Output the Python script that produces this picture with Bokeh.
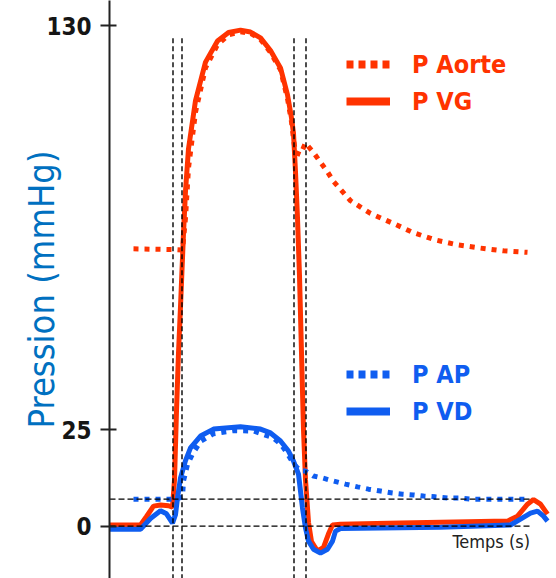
from bokeh.plotting import figure
from bokeh.models import Range1d, FixedTicker, Label, Legend, LegendItem, ColumnDataSource
from bokeh.embed import file_html
from bokeh.resources import INLINE

RED = "#FF3300"
BLUE = "#0F5DF0"
LABEL_BLUE = "#0070C0"
NAN = float("nan")

# time in ms, pressure in mmHg
t_vg = [0, 62, 74, 88, 102, 118, 126, 130, 134, 138, 142, 148, 152, 158, 172, 192, 216, 238, 262, 282,
        302, 322, 342, 356, 364, 368, 372, 376, 380, 384, 388, 392, 398, 404, 416, 428, 438, 446, 462,
        582, 796, 816, 836, 848, 862, 876]
p_vg = [0.3, 0.3, 2.5, 5.2, 5.5, 5.3, 4.9, 12, 30, 45, 57, 76, 87, 98, 110.5, 120.5, 126, 128.2, 128.8, 128.3,
        126.8, 123.5, 119, 112, 106, 102, 92, 80, 65, 45, 25, 12, 1, -4, -6.5, -5.5, -2, 0.3, 0.5,
        0.8, 1.3, 2.6, 5.7, 6.9, 5.7, 3.1]

t_ao = [48, 132, 146, 152, 158, 172, 192, 216, 238, 262, 282, 302, 322, 342, 356, 364, 368, 372, 382,
        392, 408, 422, 436, 448, 482, 522, 566, 608, 652, 698, 742, 788, 836]
p_ao = [72, 71.8, 71.7, 80, 93, 107.5, 119, 125, 127.6, 128.4, 128, 126.4, 123, 118.5, 111, 105, 100.5, 97, 96.5,
        99.5, 97, 94.5, 92, 89.5, 84.5, 81.2, 78.7, 76.2, 74.3, 73, 72.2, 71.5, 71.1]

t_vd = [0, 62, 82, 102, 114, 126, 132, 136, 142, 152, 162, 182, 208, 262, 302, 322, 342, 358, 368, 378,
        382, 386, 392, 398, 408, 422, 436, 446, 452, 462, 662, 802, 822, 842, 856, 868, 876]
p_vd = [-0.8, -0.8, 2.0, 4.0, 3.2, 0.8, 3, 7.3, 12.5, 17, 20.3, 23.4, 25.2, 25.8, 25.2, 24.2, 22.1, 19.5, 16.9, 13.5,
        9.1, 4.7, -0.5, -3.9, -6, -7, -6, -3.9, -1.3, -0.6, -0.3, 0.3, 1.8, 3.4, 3.9, 2.6, 1.3]

t_ap = [48, 128, 146, 148, 156, 166, 182, 208, 248, 288, 326, 342, 356, 368, 382, 392, 408, 426, 448, 472,
        496, 518, 542, 566, 586, 608, 628, 652, 676, 698, 722, 742, 788, 836]
p_ap = [7, 7, 7.5, 11.7, 16, 18.7, 22, 24, 24.8, 24.7, 23, 21.4, 18.8, 16.2, 14.3, 14.3, 13, 12.5, 11.7, 10.9,
        10.2, 9.6, 9.1, 8.6, 8.3, 8.1, 7.8, 7.6, 7.3, 7.3, 7.0, 7.0, 7.0, 7.0]

# reference lines
vline_t = [127, 145, 369, 393]
vline_top = [127, 127, 127.5, 127.5]
vline_bottom = [-20, -20, -20, -20]
hline_p = [0, 7]
hline_start = [0, 0]
hline_end = [844, 844]

y_ticks = [0, 25, 130]

p = figure(width=556, height=578, x_range=Range1d(0, 894), y_range=Range1d(-13.6, 136.5),
           x_axis_location=None, y_axis_location="left",
           output_backend="svg", toolbar_location=None,
           min_border_left=109, min_border_right=0, min_border_top=0, min_border_bottom=0)
p.outline_line_color = None
p.grid.visible = False
p.background_fill_color = "white"
p.border_fill_color = "white"

ax = p.yaxis[0]
ax.ticker = FixedTicker(ticks=y_ticks)
ax.minor_tick_line_color = None
ax.major_tick_in = 7
ax.major_tick_out = 9
ax.major_tick_line_width = 2
ax.major_tick_line_color = "#222222"
ax.axis_line_width = 2
ax.axis_line_color = "#222222"
ax.major_label_standoff = 9
ax.major_label_text_font = "DejaVu Sans Condensed"
ax.major_label_text_font_style = "bold"
ax.major_label_text_font_size = "24px"
ax.major_label_text_color = "#151515"
ax.axis_label = "Pression (mmHg)"
ax.axis_label_text_font = "DejaVu Sans Condensed"
ax.axis_label_text_font_style = "normal"
ax.axis_label_text_font_size = "36px"
ax.axis_label_text_color = LABEL_BLUE
ax.axis_label_standoff = -19

src_vg = ColumnDataSource(dict(t=t_vg, p=p_vg))
src_ao = ColumnDataSource(dict(t=t_ao, p=p_ao))
src_vd = ColumnDataSource(dict(t=t_vd, p=p_vd))
src_ap = ColumnDataSource(dict(t=t_ap, p=p_ap))

p.line("t", "p", source=src_vg, line_color=RED, line_width=5)
p.line("t", "p", source=src_ao, line_color=RED, line_width=5, line_dash="5 6")
p.line("t", "p", source=src_vd, line_color=BLUE, line_width=5)
p.line("t", "p", source=src_ap, line_color=BLUE, line_width=5, line_dash="5 6")

p.segment(x0=vline_t, y0=vline_bottom, x1=vline_t, y1=vline_top,
          line_color="black", line_width=1.4, line_dash="5 3")
p.segment(x0=hline_start, y0=hline_p, x1=hline_end, y1=hline_p,
          line_color="black", line_width=1.4, line_dash="6 3")

# legend sample renderers (nothing drawn in the plot)
l_ao = p.line([NAN], [NAN], line_color=RED, line_width=8, line_dash="7 5")
l_vg = p.line([NAN], [NAN], line_color=RED, line_width=8)
l_ap = p.line([NAN], [NAN], line_color=BLUE, line_width=8, line_dash="7 5")
l_vd = p.line([NAN], [NAN], line_color=BLUE, line_width=8)


def make_legend(items, color, loc):
    lg = Legend(items=items, location=loc, orientation="vertical",
                glyph_width=44, glyph_height=36, label_height=36, spacing=1,
                label_standoff=22, padding=0, margin=0,
                border_line_alpha=0, background_fill_alpha=0,
                label_text_font="DejaVu Sans Condensed", label_text_font_style="bold",
                label_text_font_size="25px", label_text_color=color)
    return lg


leg1 = make_legend([LegendItem(label="P Aorte", renderers=[l_ao]),
                    LegendItem(label="P VG", renderers=[l_vg])], RED, (237, 459))
leg2 = make_legend([LegendItem(label="P AP", renderers=[l_ap]),
                    LegendItem(label="P VD", renderers=[l_vd])], BLUE, (237, 149))
p.add_layout(leg1)
p.add_layout(leg2)

xlab = Label(x=686, y=-4, text="Temps (s)", text_align="left", text_baseline="alphabetic",
             text_font="DejaVu Sans Condensed", text_font_size="18px", text_color="#222222")
p.add_layout(xlab)

open("out.html", "w").write(file_html(p, INLINE))
